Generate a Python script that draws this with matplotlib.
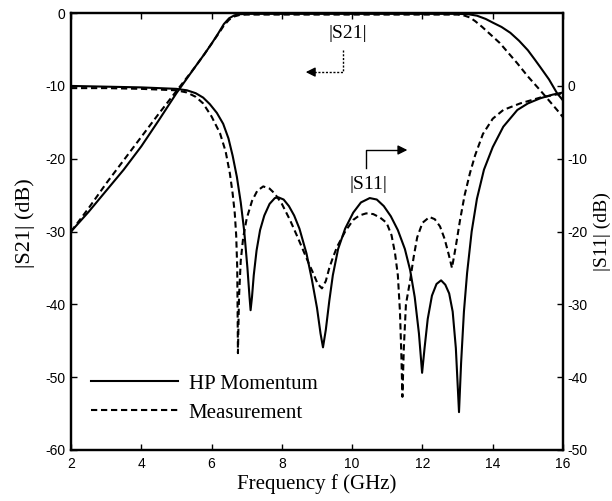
import matplotlib
matplotlib.use("Agg")
import matplotlib.pyplot as plt

# |S21| (left axis, dB)
freq_s21_sim = [2, 2.5, 3, 3.5, 4, 4.5, 5, 5.5, 5.8, 6.0, 6.2, 6.35, 6.5, 6.65, 6.8, 7,
                8, 9, 10, 11, 12, 13, 13.3, 13.55, 13.8, 14.0, 14.25, 14.5, 14.75, 15.0,
                15.2, 15.35, 15.6, 15.83, 16]
s21_sim = [-30, -27.3, -24.4, -21.5, -18.3, -14.7, -11.0, -7.6, -5.6, -4.2, -2.7, -1.5,
           -0.7, -0.3, -0.15, -0.1, -0.1, -0.1, -0.1, -0.1, -0.1, -0.1, -0.15, -0.35,
           -0.8, -1.3, -1.9, -2.7, -3.8, -5.1, -6.4, -7.4, -9.1, -11.0, -12.0]

freq_s21_meas = [2, 2.5, 3, 3.5, 4, 4.5, 5, 5.5, 5.8, 6.0, 6.2, 6.35, 6.5, 6.65, 6.8, 7,
                 8, 9, 10, 11, 12, 13, 13.2, 13.35, 13.5, 13.7, 13.95, 14.2, 14.45, 14.7,
                 15.0, 15.35, 15.6, 15.83, 16]
s21_meas = [-30, -26.8, -23.4, -20.2, -17.0, -13.8, -10.7, -7.6, -5.6, -4.2, -2.8, -1.7,
            -0.9, -0.45, -0.25, -0.2, -0.2, -0.2, -0.2, -0.2, -0.2, -0.2, -0.35, -0.6,
            -1.1, -1.9, -3.0, -4.1, -5.5, -6.9, -8.7, -10.6, -12.0, -13.3, -14.3]

# |S11| (right axis, dB)
freq_s11_sim = [2, 3, 4, 5, 5.3, 5.55, 5.76, 5.95, 6.15, 6.33, 6.48, 6.6, 6.72, 6.83, 6.93,
                7.02, 7.08, 7.11, 7.15, 7.2, 7.28, 7.38, 7.5, 7.65, 7.8, 7.9, 8.05, 8.2,
                8.35, 8.5, 8.7, 8.85, 9.0, 9.1, 9.17, 9.25, 9.35, 9.45, 9.6, 9.8, 10.03,
                10.25, 10.5, 10.7, 10.9, 11.1, 11.3, 11.5, 11.65, 11.78, 11.9, 11.99, 12.06,
                12.15, 12.27, 12.4, 12.53, 12.65, 12.76, 12.86, 12.95, 13.04, 13.1, 13.18,
                13.27, 13.4, 13.55, 13.75, 14.0, 14.3, 14.7, 15.0, 15.35, 15.7, 16]
s11_sim = [0, -0.1, -0.2, -0.4, -0.6, -1.0, -1.6, -2.5, -3.7, -5.2, -7.2, -9.6, -12.5,
           -16.0, -20.0, -25.0, -29.0, -30.8, -29.0, -26.0, -22.6, -19.8, -17.8, -16.2,
           -15.4, -15.3, -15.6, -16.5, -17.8, -19.6, -23.0, -26.5, -30.5, -34.0, -35.9,
           -33.5, -29.5, -26.0, -22.4, -19.6, -17.4, -16.0, -15.4, -15.6, -16.5, -17.9,
           -19.8, -22.4, -25.3, -29.0, -34.0, -39.4, -36.0, -32.0, -28.8, -27.2, -26.7,
           -27.3, -28.5, -31.0, -36.0, -44.8, -38.0, -31.0, -25.7, -20.0, -15.5, -11.5,
           -8.4, -5.6, -3.3, -2.4, -1.7, -1.2, -0.9]

freq_s11_meas = [2, 3, 4, 5, 5.3, 5.55, 5.76, 6.0, 6.24, 6.4, 6.52, 6.6, 6.66, 6.7, 6.73,
                 6.75, 6.78, 6.83, 6.9, 7.0, 7.15, 7.3, 7.47, 7.65, 7.8, 8.0, 8.23, 8.45,
                 8.6, 8.75, 8.89, 9.02, 9.14, 9.25, 9.35, 9.45, 9.57, 9.8, 10.03, 10.2,
                 10.4, 10.6, 10.8, 10.98, 11.12, 11.22, 11.3, 11.36, 11.4, 11.43, 11.47,
                 11.53, 11.65, 11.75, 11.85, 12.0, 12.2, 12.35, 12.5, 12.63, 12.75, 12.84,
                 12.95, 13.07, 13.2, 13.35, 13.5, 13.72, 14.0, 14.3, 14.78, 15.35, 16]
s11_meas = [-0.3, -0.3, -0.4, -0.6, -0.9, -1.5, -2.4, -4.2, -6.5, -9.0, -12.0, -14.8,
            -17.5, -20.5, -25.0, -36.7, -29.0, -24.0, -20.8, -18.2, -15.8, -14.4, -13.8,
            -14.1, -14.8, -16.2, -18.4, -20.8, -22.5, -24.2, -25.7, -27.2, -27.8, -26.8,
            -25.0, -23.6, -22.1, -20.0, -18.4, -17.8, -17.5, -17.6, -18.1, -18.8, -20.5,
            -23.0, -26.0, -31.0, -37.0, -42.7, -36.0, -30.0, -26.7, -23.5, -20.8, -18.8,
            -18.0, -18.3, -19.3, -21.0, -23.2, -25.0, -22.0, -18.4, -15.0, -12.0, -9.5,
            -6.6, -4.5, -3.3, -2.4, -1.6, -1.0]

x_ticks = [2, 4, 6, 8, 10, 12, 14, 16]
s21_ticks = [0, -10, -20, -30, -40, -50, -60]
s11_ticks = [0, -10, -20, -30, -40, -50]

serif = "Liberation Serif"
sans = "Liberation Sans"

fig = plt.figure(figsize=(6.12, 5.01), dpi=100)
ax = fig.add_axes([0.116, 0.1018, 0.804, 0.872])
ax2 = ax.twinx()

lw = 1.5
dash = (0, (3.0, 1.8))

ax.plot(freq_s21_sim, s21_sim, color="black", lw=lw, label="HP Momentum")
ax.plot(freq_s21_meas, s21_meas, color="black", lw=lw, linestyle=dash, label="Measurement")
ax2.plot(freq_s11_sim, s11_sim, color="black", lw=lw)
ax2.plot(freq_s11_meas, s11_meas, color="black", lw=lw, linestyle=dash)

ax.set_xlim(2, 16)
ax.set_ylim(-60, 0)
ax2.set_ylim(-50, 10)
ax.set_xticks(x_ticks)
ax.set_xticklabels([str(t) for t in x_ticks])
ax.set_yticks(s21_ticks)
ax.set_yticklabels([str(t) for t in s21_ticks])
ax2.set_yticks(s11_ticks)
ax2.set_yticklabels([str(t) for t in s11_ticks])

for a in (ax, ax2):
    for sp in a.spines.values():
        sp.set_linewidth(1.6)
ax.tick_params(axis="x", direction="in", length=4, width=1, top=True, pad=5)
ax.tick_params(axis="y", direction="in", length=4, width=1, pad=4)
ax2.tick_params(axis="y", direction="in", length=4, width=1, pad=3)
for lab in ax.get_xticklabels() + ax.get_yticklabels() + ax2.get_yticklabels():
    lab.set_fontfamily(sans)
    lab.set_fontsize(10)

ax.set_xlabel("Frequency f (GHz)", fontfamily=serif, fontsize=15, labelpad=2)
ax.set_ylabel("|S21| (dB)", fontfamily=serif, fontsize=16)
ax.yaxis.set_label_coords(-0.073, 0.52)
ax2.set_ylabel("|S11| (dB)", fontfamily=serif, fontsize=14, rotation=90)
ax2.yaxis.set_label_coords(1.062, 0.50)

# |S21| label with dotted elbow arrow pointing to the left axis
ax.text(9.88, -2.75, "|S21|", fontfamily=serif, fontsize=14, ha="center", va="center")
ax.plot([9.74, 9.74, 8.85], [-5.1, -8.1, -8.1], color="black", lw=1, linestyle=(0, (1.5, 1.2)))
ax.annotate("", xy=(8.6, -8.1), xytext=(8.9, -8.1),
            arrowprops=dict(arrowstyle="-|>", color="black", lw=1, mutation_scale=14))

# |S11| label with elbow arrow pointing to the right axis
ax.text(10.45, -23.6, "|S11|", fontfamily=serif, fontsize=14, ha="center", va="center")
ax.plot([10.39, 10.39, 11.3], [-21.3, -18.8, -18.8], color="black", lw=1)
ax.annotate("", xy=(11.65, -18.8), xytext=(11.25, -18.8),
            arrowprops=dict(arrowstyle="-|>", color="black", lw=1, mutation_scale=14))

leg = ax.legend(loc="center left", bbox_to_anchor=(0.04, 0.118), frameon=False,
                prop={"family": serif, "size": 15}, handlelength=4.2, handletextpad=0.5,
                labelspacing=0.45, borderpad=0, borderaxespad=0)

fig.savefig("out.png", dpi=100)
